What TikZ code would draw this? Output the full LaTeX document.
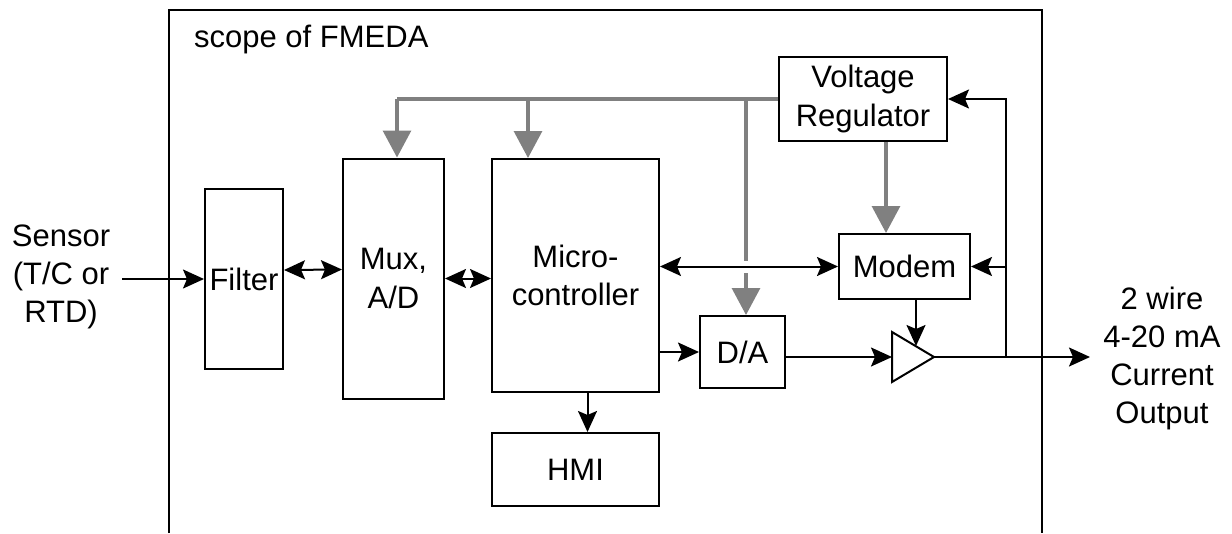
\documentclass[tikz,border=0pt]{standalone}
\usepackage{fontspec}
\setmainfont{Liberation Sans}
\usetikzlibrary{arrows.meta,calc}
\begin{document}
\begin{tikzpicture}[x=1pt,y=-1pt,
 box/.style={draw,line width=2pt,inner sep=0pt,align=center,font=\fontsize{31}{38.5}\selectfont},
 lbl/.style={inner sep=0pt,align=center,font=\fontsize{31}{38}\selectfont},
 arr/.style={line width=2pt,-{Stealth[length=21pt,width=19pt,inset=4pt]}},
 darr/.style={line width=2pt,{Stealth[length=21pt,width=19pt,inset=4pt]}-{Stealth[length=21pt,width=19pt,inset=4pt]}},
 gline/.style={line width=3.2pt,draw={rgb,255:red,128;green,128;blue,128}},
 garr/.style={gline,-{Triangle[length=27pt,width=28pt]}}]
\useasboundingbox (0,0) rectangle (1232,533);

% scope frame (open at the bottom)
\draw[line width=2pt] (169,533) -- (169,10) -- (1042,10) -- (1042,533);
\node[lbl,anchor=base west] (scope) at (194,47) {scope of FMEDA};

% blocks
\node[box,minimum width=78pt,minimum height=180pt] (filter) at (244,279) {Filter};
\node[box,minimum width=101pt,minimum height=240pt] (mux) at (393.5,278.5) {Mux,\\A/D};
\node[box,minimum width=167pt,minimum height=233pt] (micro) at (575.5,275.5) {Micro-\\controller};
\node[box,minimum width=167pt,minimum height=73pt] (hmi) at (575.5,469.5) {HMI};
\node[box,minimum width=168pt,minimum height=84pt] (vreg) at (863,99) {Voltage\\Regulator};
\node[box,minimum width=131pt,minimum height=65pt] (modem) at (904.5,266.5) {Modem};
\node[box,minimum width=85pt,minimum height=72pt] (da) at (742.5,352) {D/A};

% amplifier
\draw[line width=2pt,line join=miter] (892,332) -- (934,357) -- (892,382) -- cycle;
\coordinate (ampin) at (892,357);
\coordinate (ampout) at (934,357);
\coordinate (ampmod) at (916,346);

% outer labels
\node[lbl] (sensor) at (61,277) {Sensor\\(T/C or\\RTD)};
\node[lbl] (output) at (1162,358) {2 wire\\4-20 mA\\Current\\Output};
\coordinate (sensend) at (122,279);
\coordinate (outend) at (1090,357);
\coordinate (jn) at (1006,357);

% signal connectors
\draw[arr] (sensend) -- (filter.west |- sensend);
\draw[darr] ([yshift=9pt]filter.east) -- ([yshift=9pt]mux.west);
\draw[darr] (mux.east) -- (micro.west |- mux.east);
\draw[darr] (micro.east |- modem.west) -- (modem.west);
\draw[arr] (micro.east |- da.west) -- (da.west);
\draw[arr] (da.east |- ampin) -- (ampin);
\draw[arr] ([xshift=12pt]micro.south) -- ([xshift=12pt]hmi.north);
\draw[arr] (modem.south -| ampmod) -- (ampmod);
\draw[arr] (ampout) -- (outend);
\draw[arr] (jn) |- (vreg.east);
\draw[arr] (jn |- modem.east) -- (modem.east);

% supply connectors (grey)
\coordinate (g1) at (397,99);
\coordinate (g2) at (528,99);
\coordinate (g3) at (746,99);
\coordinate (gapA) at (746,261);
\coordinate (gapB) at (746,273);
\coordinate (vm) at (886,141);
\draw[gline] (vreg.west) -- (g1);
\draw[garr] (g1) -- (g1 |- mux.north);
\draw[garr] (g2) -- (g2 |- micro.north);
\draw[gline] (g3) -- (gapA);
\draw[garr] (gapB) -- (gapB |- da.north);
\draw[garr] (vreg.south -| vm) -- (modem.north -| vm);
\end{tikzpicture}
\end{document}
